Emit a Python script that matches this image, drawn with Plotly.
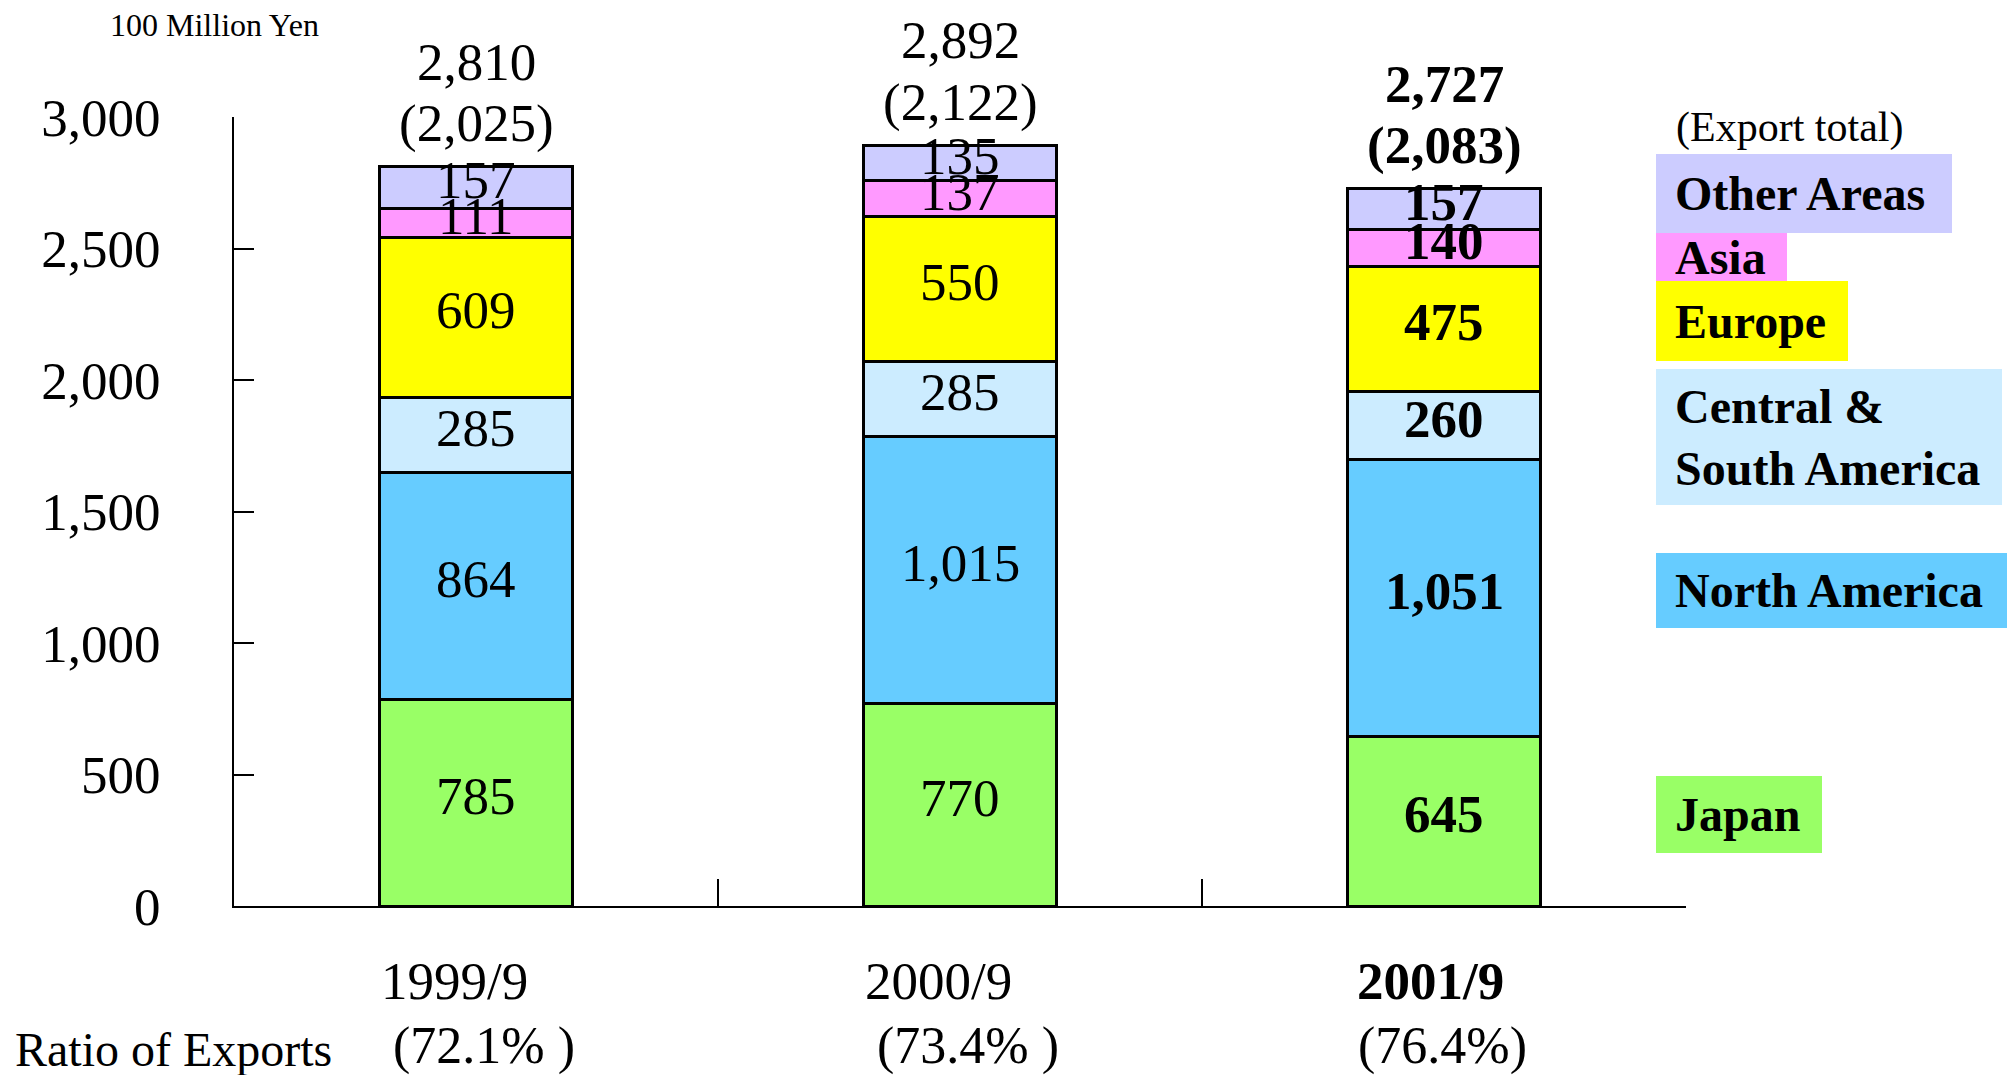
import plotly.graph_objects as go

# ── Data ──────────────────────────────────────────────────────────────────────
periods = ["1999/9", "2000/9", "2001/9"]
period_labels = ["1999/9", "2000/9", "<b>2001/9</b>"]
export_ratios = ["(72.1% )", "(73.4% )", "(76.4%)"]

japan = [785, 770, 645]
north_america = [864, 1015, 1051]
central_south_america = [285, 285, 260]
europe = [609, 550, 475]
asia = [111, 137, 140]
other_areas = [157, 135, 157]

totals = [2810, 2892, 2727]
export_totals = [2025, 2122, 2083]

y_ticks = [0, 500, 1000, 1500, 2000, 2500, 3000]

# ── Style ─────────────────────────────────────────────────────────────────────
FONT = "Liberation Serif, Times New Roman, serif"
OFF = 8                      # page body margin
W, H = 2015 - OFF, 1075 - OFF
PX_L, PX_R, PX_T, PX_B = 234, 1686, 117, 906   # plot area on the page

series = [
    ("Japan",                   japan,                 "#99FF66"),
    ("North America",           north_america,         "#66CCFF"),
    ("Central & South America", central_south_america, "#CCECFF"),
    ("Europe",                  europe,                "#FFFF00"),
    ("Asia",                    asia,                  "#FF99FF"),
    ("Other Areas",             other_areas,           "#CCCCFF"),
]

# legend boxes: (label text, colour, left, top, right, bottom) in page pixels
legend_boxes = [
    ("Other Areas",                "#CCCCFF", 1656, 154, 1952, 233),
    ("Asia",                       "#FF99FF", 1656, 233, 1787, 281),
    ("Europe",                     "#FFFF00", 1656, 281, 1848, 361),
    ("Central &<br>South America", "#CCECFF", 1656, 369, 2002, 505),
    ("North America",              "#66CCFF", 1656, 553, 2007, 628),
    ("Japan",                      "#99FF66", 1656, 776, 1822, 853),
]

year_xshift = [-22, -22, -14]
ratio_xshift = [8, 8, -2]


def px_x(x):
    return (x - PX_L) / (PX_R - PX_L)


def px_y(y):
    return (PX_B - y) / (PX_B - PX_T)


def bold_if_last(i, txt):
    return f"<b>{txt}</b>" if i == len(periods) - 1 else txt


fig = go.Figure()
for name, vals, col in series:
    fig.add_trace(go.Bar(
        x=periods, y=vals, name=name,
        marker=dict(color=col, line=dict(color="black", width=3)),
        showlegend=False,
    ))

annotations = []

# segment labels
base = [0, 0, 0]
for name, vals, col in series:
    for i, v in enumerate(vals):
        annotations.append(dict(
            x=periods[i], y=base[i] + v / 2, yshift=7,
            text=bold_if_last(i, f"{v:,}"), showarrow=False,
            font=dict(size=53, color="black", family=FONT),
        ))
        base[i] += v

# totals above bars: grand total, then export total in brackets
for i, p in enumerate(periods):
    annotations.append(dict(
        x=p, y=totals[i], yanchor="middle", yshift=105,
        text=bold_if_last(i, f"{totals[i]:,}"), showarrow=False,
        font=dict(size=53, color="black", family=FONT),
    ))
    annotations.append(dict(
        x=p, y=totals[i], yanchor="middle", yshift=43,
        text=bold_if_last(i, f"({export_totals[i]:,})"), showarrow=False,
        font=dict(size=53, color="black", family=FONT),
    ))

# period labels and ratio of exports row
for i, p in enumerate(periods):
    annotations.append(dict(
        x=p, xshift=year_xshift[i], y=px_y(981), yref="paper", yanchor="middle",
        text=period_labels[i], showarrow=False,
        font=dict(size=53, color="black", family=FONT),
    ))
    annotations.append(dict(
        x=p, xshift=ratio_xshift[i], y=px_y(1046), yref="paper", yanchor="middle",
        text=export_ratios[i], showarrow=False,
        font=dict(size=52, color="black", family=FONT),
    ))

annotations.append(dict(
    x=px_x(13), y=px_y(1049), xref="paper", yref="paper",
    xanchor="left", yanchor="middle", text="Ratio of Exports",
    showarrow=False, font=dict(size=48, color="black", family=FONT),
))
annotations.append(dict(
    x=px_x(108), y=px_y(25), xref="paper", yref="paper",
    xanchor="left", yanchor="middle", text="100 Million Yen",
    showarrow=False, font=dict(size=32, color="black", family=FONT),
))
annotations.append(dict(
    x=px_x(1674), y=px_y(128), xref="paper", yref="paper",
    xanchor="left", yanchor="middle", text="(Export total)",
    showarrow=False, font=dict(size=42, color="black", family=FONT),
))

shapes = []
for text, col, x0, y0, x1, y1 in legend_boxes:
    shapes.append(dict(
        type="rect", xref="paper", yref="paper",
        x0=px_x(x0), x1=px_x(x1), y0=px_y(y1), y1=px_y(y0),
        fillcolor=col, line=dict(width=0), layer="below",
    ))
    annotations.append(dict(
        x=px_x(x0 + 17), y=px_y((y0 + y1) / 2), xref="paper", yref="paper",
        xanchor="left", yanchor="middle", align="left",
        text=f"<b>{text}</b>", showarrow=False,
        font=dict(size=48, color="black", family=FONT),
    ))

fig.update_layout(
    width=W, height=H,
    margin=dict(l=PX_L - OFF, r=W - (PX_R - OFF), t=PX_T - OFF, b=H - (PX_B - OFF)),
    paper_bgcolor="white", plot_bgcolor="white",
    barmode="stack", bargap=0.6,
    font=dict(family=FONT, color="black"),
    annotations=annotations, shapes=shapes,
    showlegend=False,
)
fig.update_xaxes(
    tickvals=periods, showticklabels=False,
    showline=True, linecolor="black", linewidth=2,
    ticks="inside", tickson="boundaries", ticklen=27, tickwidth=1.5,
    tickcolor="black",
    showgrid=False, zeroline=False,
)
fig.update_yaxes(
    range=[0, 3000], tickvals=y_ticks,
    ticktext=[f"{v:,}" for v in y_ticks],
    showline=True, linecolor="black", linewidth=2,
    ticks="inside", ticklen=20, tickwidth=2, tickcolor="black",
    ticklabelstandoff=61,
    tickfont=dict(size=53, family=FONT, color="black"),
    showgrid=False, zeroline=False,
)

fig.write_html("out.html")
